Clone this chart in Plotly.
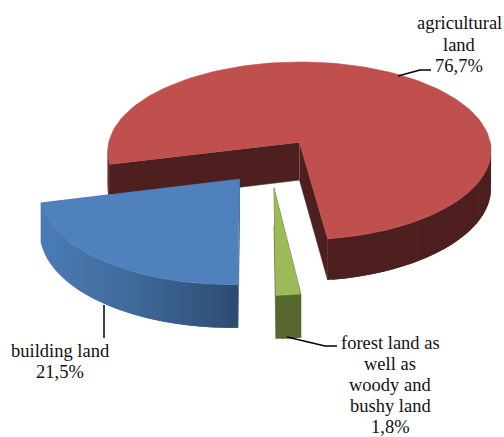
import math
import plotly.graph_objects as go

# Data
categories = ["agricultural land", "forest land as well as woody and bushy land", "building land"]
values = [76.7, 1.8, 21.5]
value_labels = ["76,7%", "1,8%", "21,5%"]
label_lines = [["agricultural", "land", "76,7%"],
               ["forest land as", "well as", "woody and", "bushy land", "1,8%"],
               ["building land", "21,5%"]]

# Style / projection
W, H = 504, 437
START = -82.0        # angle of the first slice's start, ccw, degrees
OFFSETS = [(0.10, 0.15), (-0.025, -0.34), (-0.20, -0.25)]   # explosion of each slice
CX, CY, VX, RX, RY, PERSP, THICK = 280, 156, 310, 193.5, 90.7, 0.095, 38
TOP = ["#c0504d", "#9bbb59", "#4f81bd"]
INNER = ["#4d1f1f", "#56682f", "#3a608f"]
WALL_STOPS = [[(0.0, "#4d1f1f"), (0.6, "#4d1f1f"), (1.0, "#652b2b")],
              [(0.0, "#56682f"), (1.0, "#56682f")],
              [(0.0, "#4a7cb6"), (0.45, "#3f6a9a"), (1.0, "#2c4a71")]]
LABEL_POS = [(459, [23, 44.5, 66]), (390, [343, 364, 385, 406, 427]), (60, [351, 372])]
LEADERS = [[(398, 76), (420, 70), (431, 70)],
           [(287, 337), (325, 346), (337, 346)],
           [(104, 305), (104, 338)]]
FONT = "Liberation Serif, Times New Roman, serif"


def proj(x, y, drop=0.0):
    s = 1 / (1 + PERSP * y)
    return VX + (CX - VX + RX * x) * s, CY - RY * y * s + THICK * drop * s


def mix(stops, f):
    for (f0, c0), (f1, c1) in zip(stops, stops[1:]):
        if f <= f1:
            u = (f - f0) / (f1 - f0) if f1 > f0 else 0
            a = [int(c0[i:i + 2], 16) for i in (1, 3, 5)]
            b = [int(c1[i:i + 2], 16) for i in (1, 3, 5)]
            return "rgb(%d,%d,%d)" % tuple(round(p + (q - p) * u) for p, q in zip(a, b))
    return stops[-1][1]


fig = go.Figure()


def poly(points, color, lw=0.6):
    fig.add_trace(go.Scatter(x=[p[0] for p in points], y=[p[1] for p in points],
                             mode="lines", fill="toself", fillcolor=color,
                             line=dict(color=color, width=lw),
                             hoverinfo="skip", showlegend=False))


def arc(a0, a1, n):
    return [a0 + (a1 - a0) * i / n for i in range(n + 1)]


# slices run ccw from START: agricultural, then building, then forest
order = [0, 2, 1]
total = sum(values)
spans = {}
ang = START
for i in order:
    sweep = values[i] / total * 360
    spans[i] = (ang, ang + sweep)
    ang += sweep


def draw_slice(i):
    a0, a1 = spans[i]
    ox, oy = OFFSETS[i]
    pt = lambda a: (ox + math.cos(math.radians(a)), oy + math.sin(math.radians(a)))
    apex = (ox, oy)
    # inner cut faces
    for a in (a1, a0):
        e = pt(a)
        poly([proj(*apex), proj(*e), proj(*e, 1), proj(*apex, 1)], INNER[i])
    # outer wall: only the front half is visible
    ranges = []
    if max(a0, 180) < min(a1, 360):
        ranges.append((max(a0, 180), min(a1, 360)))
    if a0 < 0 and a0 < min(a1, 0):
        ranges.append((a0, min(a1, 0)))
    full0 = min(r[0] for r in ranges)
    full1 = max(r[1] for r in ranges)
    for r0, r1 in ranges:
        n = max(2, int((r1 - r0) / 1.2))
        angs = arc(r0, r1, n)
        # each strip overlaps the next one so that no seams show
        for k in range(n - 1, -1, -1):
            u, v = angs[k], angs[k + 1]
            w = angs[min(k + 2, n)]
            xs = [proj(*pt(t))[0] for t in (full0, full1)]
            f = (proj(*pt((u + v) / 2))[0] - min(xs)) / (max(xs) - min(xs) or 1)
            if i == 0:
                f = 1 - f
            col = mix(WALL_STOPS[i], max(0, min(1, f)))
            poly([proj(*pt(u)), proj(*pt(v)), proj(*pt(w)), proj(*pt(w), 1), proj(*pt(v), 1), proj(*pt(u), 1)], col, 0)
    # top face
    angs = arc(a0, a1, max(4, int((a1 - a0) / 2)))
    poly([proj(*apex)] + [proj(*pt(a)) for a in angs], TOP[i])


for i in [0, 2, 1]:
    draw_slice(i)

for pts in LEADERS:
    fig.add_trace(go.Scatter(x=[p[0] for p in pts], y=[p[1] for p in pts], mode="lines",
                             line=dict(color="black", width=1.5),
                             hoverinfo="skip", showlegend=False))

for lines, (lx, ys) in zip(label_lines, LABEL_POS):
    for t, ly in zip(lines, ys):
        fig.add_annotation(x=lx, y=ly, text=t, showarrow=False, xanchor="center", yanchor="middle",
                           font=dict(family=FONT, size=18.5, color="#111111"))

fig.update_layout(width=W, height=H, autosize=False, margin=dict(l=0, r=0, t=0, b=0),
                  paper_bgcolor="white", plot_bgcolor="white", showlegend=False,
                  xaxis=dict(range=[0, W], visible=False, fixedrange=True),
                  yaxis=dict(range=[H, 0], visible=False, fixedrange=True))
fig.write_html("out.html", config={"displayModeBar": False},
               post_script="document.body.style.margin='0';document.body.style.overflow='hidden';")
